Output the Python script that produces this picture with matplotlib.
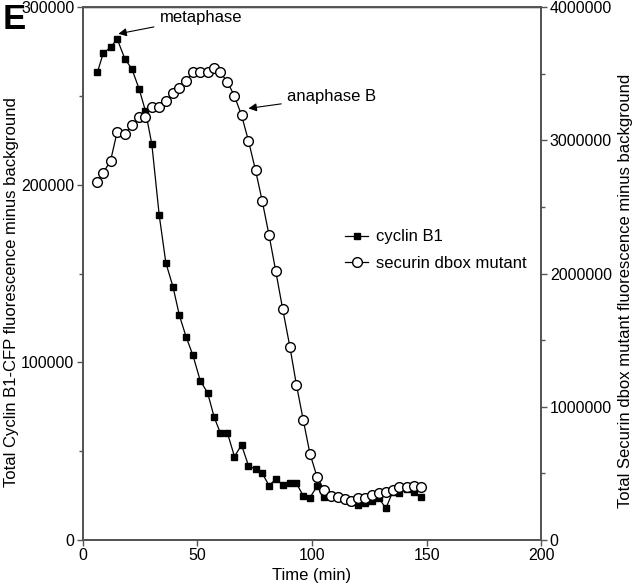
import matplotlib
matplotlib.use("Agg")
import matplotlib.pyplot as plt
from matplotlib.ticker import MultipleLocator, FormatStrFormatter

plt.rcParams['font.family'] = ['Liberation Sans', 'DejaVu Sans']

# data (time in min)
waktu = [6.5, 9.0, 12.2, 15.1, 18.4, 21.5, 24.7, 27.4, 30.2, 33.4, 36.3, 39.4,
         42.2, 45.1, 48.1, 51.3, 54.5, 57.4, 60.0, 63.1, 66.2, 69.3, 72.3, 75.4,
         78.3, 81.3, 84.2, 87.2, 90.4, 93.2, 96.2, 99.1, 102.2, 105.2, 108.3, 111.2,
         114.2, 117.2, 120.1, 123.2, 126.2, 129.2, 132.2, 135.1, 138.1, 141.3, 144.3, 147.6]

cyclin_b1 = [263500, 274000, 277400, 282100, 271000, 265200, 253800, 241600,
             222800, 183000, 156100, 142600, 126500, 114500, 104000, 89700,
             82900, 69000, 60500, 60500, 47000, 53500, 41900, 39800,
             37600, 30600, 34400, 31100, 32000, 32000, 24800, 23900,
             30200, 24100, 25600, 24000, 23000, 21500, 20000, 20700,
             21900, 23500, 17800, 26900, 26500, 28500, 26900, 24400]

securin_dbox = [2690000, 2757000, 2847000, 3065000, 3048000, 3115000, 3173000, 3178000,
                3253000, 3248000, 3296000, 3353000, 3391000, 3446000, 3511000, 3511000,
                3511000, 3541000, 3511000, 3440000, 3333000, 3188000, 2998000, 2775000,
                2545000, 2287000, 2019000, 1736000, 1447000, 1166000, 900000, 649000,
                474000, 378000, 333000, 321000, 309000, 296000, 316000, 316000,
                338000, 351000, 358000, 378000, 395000, 395000, 405000, 400000]

warna_sumbu = '#555555'
fs_teks = 12

fig = plt.figure(figsize=(6.4, 5.84), dpi=100)
fig.subplots_adjust(left=0.129, right=0.846, bottom=0.0753, top=0.9877)
ax = fig.add_subplot(111)
ax2 = ax.twinx()

l1, = ax.plot(waktu, cyclin_b1, color='black', lw=0.9, marker='s', ms=5,
              mfc='black', mec='black', label='cyclin B1')
l2, = ax2.plot(waktu, securin_dbox, color='black', lw=0.9, marker='o', ms=7,
               mfc='white', mec='black', mew=1.0, label='securin dbox mutant')

ax.set_xlim(0, 200)
ax.set_ylim(0, 300000)
ax2.set_ylim(0, 4000000)

ax.xaxis.set_major_locator(MultipleLocator(50))
ax.yaxis.set_major_locator(MultipleLocator(100000))
ax.yaxis.set_minor_locator(MultipleLocator(50000))
ax2.yaxis.set_major_locator(MultipleLocator(1000000))
ax2.yaxis.set_minor_locator(MultipleLocator(500000))
ax.yaxis.set_major_formatter(FormatStrFormatter('%d'))
ax2.yaxis.set_major_formatter(FormatStrFormatter('%d'))

for a in (ax, ax2):
    for s in a.spines.values():
        s.set_color(warna_sumbu)
        s.set_linewidth(1.4)
    a.tick_params(which='major', length=4, width=1, color=warna_sumbu,
                  labelsize=11.5, pad=2)
    a.tick_params(which='minor', length=3, width=1, color=warna_sumbu)
ax.spines['top'].set_color('black')
ax.spines['top'].set_linewidth(1.0)

ax.set_xlabel('Time (min)', fontsize=fs_teks, labelpad=3)
ax.set_ylabel('Total Cyclin B1-CFP fluorescence minus background', fontsize=fs_teks,
              va='center')
ax.yaxis.set_label_coords(-0.155, 0.466)
ax2.set_ylabel('Total Securin dbox mutant fluorescence minus background',
               fontsize=fs_teks, rotation=90, va='center')
ax2.yaxis.set_label_coords(1.184, 0.467)

# anotasi
ax.annotate('metaphase', xy=(15.6, 285000), xytext=(33.5, 294000),
            fontsize=fs_teks, va='center', ha='left',
            arrowprops=dict(arrowstyle='-|>', color='black', lw=0.8,
                            mutation_scale=12, shrinkA=2, shrinkB=0))
ax.annotate('anaphase B', xy=(72.3, 243000), xytext=(89.0, 249500),
            fontsize=fs_teks, va='center', ha='left',
            arrowprops=dict(arrowstyle='-|>', color='black', lw=0.8,
                            mutation_scale=12, shrinkA=2, shrinkB=0))

leg = ax2.legend(handles=[l1, l2], loc='upper left', bbox_to_anchor=(0.572, 0.583),
                 frameon=False, fontsize=fs_teks, handlelength=1.4, handletextpad=0.45,
                 labelspacing=0.7, borderpad=0, borderaxespad=0)

fig.text(0.004, 0.995, 'E', fontsize=25, fontweight='bold', va='top', ha='left')

fig.savefig('out.png', dpi=100)
